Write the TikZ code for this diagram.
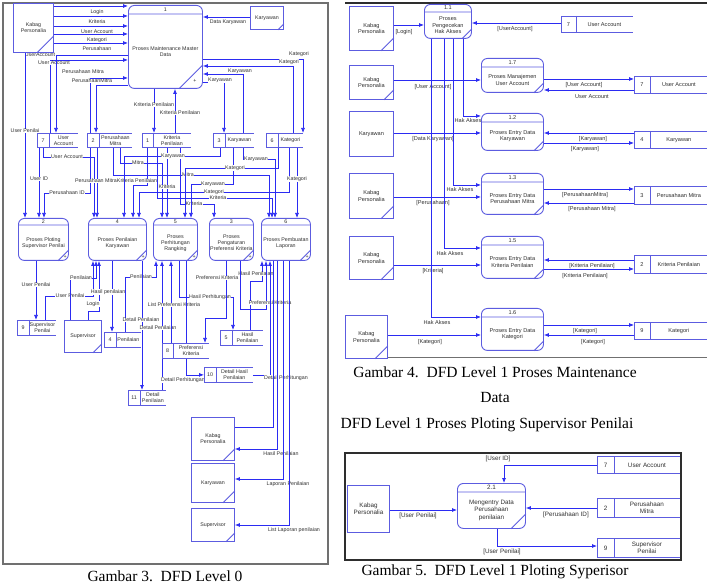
\documentclass[tikz,border=0pt]{standalone}
\usepackage{fontspec}
\setmainfont{Liberation Serif}
\setsansfont{Liberation Sans}
\usetikzlibrary{arrows.meta, calc, backgrounds}
\definecolor{cflow}{HTML}{2B2BF2}
\definecolor{cbox}{HTML}{5C5CE0}
\definecolor{cgrey}{HTML}{707070}
\definecolor{cdark}{HTML}{2E2E2E}
\definecolor{ctext}{HTML}{303030}
\tikzset{
  every picture/.style={line width=0.8pt},
  flow/.style={draw=cflow, line width=0.75pt, -{Latex[length=5pt,width=4pt]}},
  link/.style={draw=cflow, line width=0.75pt},
  edge/.style={draw=cbox, line width=0.9pt},
  ent/.style={edge, fill=white, align=center, inner sep=0pt, text=ctext},
  proc/.style={edge, fill=white, rounded corners=6pt, inner sep=0pt},
  store/.style={fill=white, inner sep=0pt},
  txt/.style={align=center, inner sep=0pt, text=ctext},
  lab/.style={fill=white, inner sep=0.4pt, text=ctext},
  captxt/.style={font=\rmfamily\fontsize{15.5}{18}\selectfont, inner sep=0pt},
  fa/.style={font=\sffamily\fontsize{5.3}{5.9}\selectfont},
  fb/.style={font=\sffamily\fontsize{5.6}{6.4}\selectfont},
  fc/.style={font=\sffamily\fontsize{6.3}{7.3}\selectfont},
}
\begin{document}
\begin{tikzpicture}[x=1pt, y=-1pt]
\useasboundingbox (0,0) rectangle (707,585);

% ---------------- DFD level 0 ----------------
\begin{scope}[every node/.append style={fa}]
\foreach \n/\x/\y/\w/\h/\dg/\txt in {kp0/13/3/40/49/17/{Kabag\\Personalia}, kar0/250/6/33/23/6/Karyawan,
    sup0/64/320/37/32/9/Supervisor, kp1/191/417/43/43/12/{Kabag\\Personalia},
    kar1/191/463/43/39/12/Karyawan, sup1/191/508/43/33/9/Supervisor} {
  \node[ent, minimum width=\w pt, minimum height=\h pt, anchor=north west] (\n) at (\x,\y) {\txt};
  \draw[edge] ($(\n.south east)+(0,-\dg)$) -- ($(\n.south east)+(-\dg,0)$);
}
\foreach \n/\x/\y/\w/\h/\hd/\nm/\dg/\txt in {p1/128/5/74/83/9/1/24/{Proses Maintenance Master\\Data},
    p2/18/218/50/42/7/2/11/{Proses Ploting\\Supervisor Penilai}, p4/88/218/58/42/7/4/11/{Proses Penilaian\\Karyawan},
    p5/153/218/44/42/7/5/11/{Proses\\Perhitungan\\Rangking}, p3/209/218/44/42/7/3/11/{Proses\\Pengaturan\\Preferensi Kriteria},
    p6/261/218/49/42/7/6/11/{Proses Pembuatan\\Laporan}} {
  \node[proc, minimum width=\w pt, minimum height=\h pt, anchor=north west] (\n) at (\x,\y) {};
  \draw[edge] ($(\n.north west)+(0,\hd)$) -- ($(\n.north east)+(0,\hd)$)
    ($(\n.south east)+(0,-\dg)$) -- ($(\n.south east)+(-\dg,0)$);
  \node[txt] (\n-no) at ($(\n.north)+(0,\hd/2)$) {\nm};
  \node[txt] (\n-tx) at ($(\n.center)+(0,\hd/2)$) {\txt};
  \node[txt] (\n-pl) at ($(\n.south east)+(-\dg/3,-\dg/3)$) {+};
}
\foreach \n/\x/\y/\w/\h/\cw/\nm/\txt in {s7/37/133/40/14/12/7/{User\\Account}, s2/87/133/44/14/12/2/{Perusahaan\\Mitra},
    s1/142/133/48/14/11/1/{Kriteria\\Penilaian}, s3/213/133/40/14/12/3/Karyawan, s6/266/133/36/14/12/6/Kategori,
    s9/17/320/38/15/12/9/{Supervisor\\Penilai}, s4/104/332/36/15/12/4/Penilaian, s11/128/390/37/15/12/11/{Detail\\Penilaian},
    s8/162/343/46/15/11/8/{Preferensi\\Kriteria}, s5/220/330/42/15/12/5/{Hasil\\Penilaian},
    s10/204/367/48/15/12/10/{Detail Hasil\\Penilaian}} {
  \node[store, minimum width=\w pt, minimum height=\h pt, anchor=north west] (\n) at (\x,\y) {};
  \draw[edge] (\n.north east) -- (\n.north west) -- (\n.south west) -- (\n.south east)
    ($(\n.north west)+(\cw,0)$) -- ($(\n.south west)+(\cw,0)$);
  \node[txt] (\n-no) at ($(\n.west)+(\cw/2,0)$) {\nm};
  \node[txt] (\n-tx) at ($(\n.center)+(\cw/2,0)$) {\txt};
}
\begin{pgfonlayer}{background}
  \draw[cgrey, line width=1.3pt] (3,3) rectangle (328,564);
  % into process 1
  \foreach \yy/\lb [count=\i] in {6/Login, 16/Kriteria, 26/User Account, 34/Kategori, 43/Perusahaan}
    \draw[flow] (kp0.east |- 0,\yy) -- (p1.west |- 0,\yy) node[lab] (ka\i) at (97,\yy+6) {\lb};
  \draw[flow] (kar0.west |- 0,17) -- (p1.east |- 0,17) node[lab] (f1) at (228,22) {Data Karyawan};
  \draw[flow] (s7.north -| 50,0) |- (p1.west |- 0,60) node[lab] (f2) at (54,63) {User Account};
  \draw[flow] (p1.west |- 0,55) -| (s7.north -| 56,0) node[lab] (f3) at (40,55) {UserAccount};
  \draw[flow] (s2.north -| 90,0) |- (p1.west |- 0,78) node[lab] (f4) at (83,72) {Perusahaan Mitra};
  \draw[flow] (p1.west |- 0,85) -| (s2.north -| 96,0) node[lab] (f5) at (92,81) {PerusahaanMitra};
  \draw[flow] (p1.south -| 154,0) -- (s1.north -| 154,0) node[lab] (f6) at (154,105) {Kriteria Penilaian};
  \draw[flow] (s1.north -| 175,0) -- (p1.south -| 175,0) node[lab] (f7) at (180,113) {Kriteria Penilaian};
  \draw[flow] (p1.east |- 0,59) -| (s6.north -| 303,0) node[lab] (f8) at (299,54) {Kategori};
  \draw[flow] (s6.north -| 293,0) |- (p1.east |- 0,66) node[lab] (f9) at (289,62) {Kategori};
  \draw[flow] (s3.north -| 243,0) |- (p1.east |- 0,74) node[lab] (f10) at (240,71) {Karyawan};
  \draw[flow] (p1.east |- 0,82) -| (s3.north -| 224,0) node[lab] (f11) at (220,80) {Karyawan};
  % stores to the process row
  \draw[flow] (kp0.south -| 25,0) -- (p2.north -| 25,0) node[lab] (f12) at (25,131) {User Penilai};
  \draw[flow] (s7.south -| 39,0) -- (p2.north -| 39,0) node[lab] (f13) at (39,179) {User ID};
  \draw[flow] (s7.south -| 43,0) |- (94,157) -- (p4.north -| 94,0) node[lab] (f14) at (67,157) {User Account};
  \draw[flow] (s2.south -| 90,0) |- (44,193) -- (p2.north -| 44,0) node[lab] (f15) at (67,193) {Perusahaan ID};
  \draw[flow] (s2.south -| 97,0) -- (p4.north -| 97,0) node[lab] (f16) at (96,181) {Perusahaan Mitra};
  \draw[flow] (s2.south -| 120,0) |- (162,163) -- (p5.north -| 162,0) node[lab] (f17) at (138,163) {Mitra};
  \draw[flow] (s2.south -| 113,0) |- (269,175) -- (p6.north -| 269,0) node[lab] (f18) at (188,175) {Mitra};
  \draw[flow] (s1.south -| 147,0) |- (133,185) -- (p4.north -| 133,0) node[lab] (f19) at (137,181) {Kriteria Penilaian};
  \draw[flow] (s1.south -| 167,0) -- (p5.north -| 167,0) node[lab] (f20) at (167,187) {Kriteria};
  \draw[flow] (s1.south -| 157,0) |- (272,198) -- (p6.north -| 272,0) node[lab] (f21) at (218,198) {Kriteria};
  \draw[flow] (s1.south -| 180,0) |- (214,204) -- (p3.north -| 214,0) node[lab] (f22) at (194,204) {Kriteria};
  \draw[flow] (s3.south -| 220,0) |- (124,156) -- (p4.north -| 124,0) node[lab] (f23) at (173,156) {Karyawan};
  \draw[flow] (s3.south -| 233,0) |- (191,184) -- (p5.north -| 191,0) node[lab] (f24) at (213,184) {Karyawan};
  \draw[flow] (s3.south -| 243,0) |- (275,159) -- (p6.north -| 275,0) node[lab] (f25) at (256,159) {Karyawan};
  \draw[flow] (s6.south -| 278,0) |- (185,168) -- (p5.north -| 185,0) node[lab] (f26) at (235,168) {Kategori};
  \draw[flow] (s6.south -| 289,0) |- (139,192) -- (p4.north -| 139,0) node[lab] (f27) at (214,192) {Kategori};
  \draw[flow] (s6.south -| 297,0) -- (p6.north -| 297,0) node[lab] (f28) at (297,179) {Kategori};
  % below the process row
  \draw[flow] (p2.south -| 36,0) -- (s9.north -| 36,0) node[lab] (f29) at (36,285) {User Penilai};
  \draw[flow] (s9.north -| 45,0) |- (93,296) -- (p4.south -| 93,0) node[lab] (f30) at (70,296) {User Penilai};
  \draw[flow] (sup0.north -| 70,0) |- (96,278) -- (p4.south -| 96,0) node[lab] (f31) at (81,278) {Penilaian};
  \draw[flow] (sup0.north -| 88,0) |- (99,311) -- (p4.south -| 99,0) node[lab] (f32) at (93,304) {Login};
  \draw[flow] (p4.south -| 112,0) -- (s4.north -| 112,0) node[lab] (f33) at (108,292) {Hasil penilaian};
  \draw[flow] (s4.north -| 125,0) |- (156,277) -- (p5.south -| 156,0) node[lab] (f34) at (141,277) {Penilaian};
  \draw[flow] (p4.south -| 142,0) -- (s11.north -| 142,0) node[lab] (f35) at (141,320) {Detail Penilaian};
  \draw[flow] (s11.north -| 162,0) -- (p5.south -| 162,0) node[lab] (f36) at (158,328) {Detail Penilaian};
  \draw[flow] (s8.north -| 171,0) -- (p5.south -| 171,0) node[lab] (f37) at (174,305) {List Preferensi Kriteria};
  \draw[flow] (p5.south -| 179,0) |- (233,297) -- (s5.north -| 233,0) node[lab] (f38) at (210,297) {Hasil Perhitungan};
  \draw[flow] (p5.south -| 186,0) |- (s10.west) node[lab] (f39) at (183,380) {Detail Perhitungan};
  \draw[flow] (p3.south -| 226,0) |- (205,318) -- (s8.north -| 205,0) node[lab] (f40) at (217,278) {Preferensi Kriteria};
  \draw[flow] (s5.north -| 250,0) |- (262,281) -- (p6.south -| 262,0) node[lab] (f41) at (256,274) {Hasil Penilaian};
  \draw[flow] (p3.south -| 240,0) |- (266,309) -- (p6.south -| 266,0) node[lab] (f42) at (270,303) {Preferensi Kriteria};
  \draw[flow] (s10.east) -| (p6.south -| 270,0) node[lab] (f43) at (286,378) {Detail Perhitungan};
  % reports
  \draw[link] (p6.south -| 273,0) |- (kp1.east |- 0,427);
  \draw[flow] (p6.south -| 277,0) |- (kp1.east |- 0,449) node[lab] (f44) at (281,454) {Hasil Penilaian};
  \draw[flow] (p6.south -| 283,0) |- (kar1.east |- 0,479) node[lab] (f45) at (288,484) {Laporan Penilaian};
  \draw[flow] (p6.south -| 289,0) |- (sup1.east |- 0,525) node[lab] (f46) at (294,530) {List Laporan penilaian};
\end{pgfonlayer}
\end{scope}

% ---------------- DFD level 1, maintenance ----------------
\begin{scope}[every node/.append style={fb}]
\foreach \n/\x/\y/\w/\h/\dg/\txt in {ka/349/6/44/44/13/{Kabag\\Personalia}, kb/349/65/44/34/10/{Kabag\\Personalia},
    kc/349/111/44/45/0/Karyawan, kd/349/173/44/45/13/{Kabag\\Personalia},
    ke/349/236/44/43/13/{Kabag\\Personalia}, kf/345/315/42/43/13/{Kabag\\Personalia}} {
  \node[ent, minimum width=\w pt, minimum height=\h pt, anchor=north west] (\n) at (\x,\y) {\txt};
  \draw[edge] ($(\n.south east)+(0,-\dg)$) -- ($(\n.south east)+(-\dg,0)$);
}
\foreach \n/\x/\y/\w/\h/\hd/\nm/\dg/\txt in {q11/424/4/47/34/8/1.1/10/{Proses\\Pengecekan\\Hak Akses},
    q17/481/58/62/34/9/1.7/10/{Proses Manajemen\\User Account}, q12/481/113/62/37/9/1.2/10/{Proses Entry Data\\Karyawan},
    q13/481/173/62/41/9/1.3/10/{Proses Entry Data\\Perusahaan Mitra},
    q15/481/236/62/42/9/1.5/10/{Proses Entry Data\\Kriteria Penilaian},
    q16/481/308/62/42/9/1.6/10/{Proses Entry Data\\Kategori}} {
  \node[proc, minimum width=\w pt, minimum height=\h pt, anchor=north west] (\n) at (\x,\y) {};
  \draw[edge] ($(\n.north west)+(0,\hd)$) -- ($(\n.north east)+(0,\hd)$)
    ($(\n.south east)+(0,-\dg)$) -- ($(\n.south east)+(-\dg,0)$);
  \node[txt] (\n-no) at ($(\n.north)+(0,\hd/2)$) {\nm};
  \node[txt] (\n-tx) at ($(\n.center)+(0,\hd/2)$) {\txt};
}
\foreach \n/\x/\y/\w/\h/\cw/\nm/\txt in {t7a/561/16/71/16/15/7/User Account, t7b/634/76/73/17/16/7/User Account,
    t4/634/131/73/17/16/4/Karyawan, t3/634/186/73/18/16/3/Perusahaan Mitra,
    t2/634/255/73/18/16/2/Kriteria Penilaian, t9/634/322/73/17/16/9/Kategori} {
  \node[store, minimum width=\w pt, minimum height=\h pt, anchor=north west] (\n) at (\x,\y) {};
  \draw[edge] (\n.north east) -- (\n.north west) -- (\n.south west) -- (\n.south east)
    ($(\n.north west)+(\cw,0)$) -- ($(\n.south west)+(\cw,0)$);
  \node[txt] (\n-no) at ($(\n.west)+(\cw/2,0)$) {\nm};
  \node[txt] (\n-tx) at ($(\n.center)+(\cw/2,0)$) {\txt};
}
\begin{pgfonlayer}{background}
  \draw[cdark, line width=1.6pt] (345,3) -- (707,3);
  \draw[cgrey, line width=1pt] (345,358) -- (707,358);
  \draw[flow] (ka.east |- 0,25) -- (q11.west |- 0,25) node[lab] (g1) at (404,32) {[Login]};
  \draw[flow] (t7a.west |- 0,23) -- (q11.east |- 0,23) node[lab] (g2) at (515,29) {[UserAccount]};
  \draw[flow] (kb.east |- 0,80) -- (q17.west |- 0,80) node[lab] (g3) at (433,87) {[User Account]};
  \draw[flow] (q17.east |- 0,79) -- (t7b.west |- 0,79) node[lab] (g4) at (584,85) {[User Account]};
  \draw[flow] (t7b.west |- 0,90) -- (q17.east |- 0,90) node[lab] (g5) at (592,97) {User Account};
  \draw[flow] (kc.east |- 0,133) -- (q12.west |- 0,133) node[lab] (g6) at (433,139) {[Data Karyawan]};
  \draw[flow] (t4.west |- 0,133) -- (q12.east |- 0,133) node[lab] (g7) at (593,139) {[Karyawan]};
  \draw[flow] (q12.east |- 0,143) -- (t4.west |- 0,143) node[lab] (g8) at (585,149) {[Karyawan]};
  \draw[flow] (kd.east |- 0,197) -- (q13.west |- 0,197) node[lab] (g9) at (433,203) {[Perusahaan]};
  \draw[flow] (q13.east |- 0,189) -- (t3.west |- 0,189) node[lab] (g10) at (585,195) {[PerusahaanMitra]};
  \draw[flow] (t3.west |- 0,203) -- (q13.east |- 0,203) node[lab] (g11) at (592,209) {[Perusahaan Mitra]};
  \draw[flow] (ke.east |- 0,265) -- (q15.west |- 0,265) node[lab] (g12) at (433,271) {[Kriteria]};
  \draw[flow] (t2.west |- 0,260) -- (q15.east |- 0,260) node[lab] (g13) at (592,266) {[Kriteria Penilaian]};
  \draw[flow] (q15.east |- 0,269) -- (t2.west |- 0,269) node[lab] (g14) at (585,276) {[Kriteria Penilaian]};
  \draw[flow] (kf.east |- 0,335) -- (q16.west |- 0,335) node[lab] (g15) at (430,342) {[Kategori]};
  \draw[flow] (q16.east |- 0,325) -- (t9.west |- 0,325) node[lab] (g16) at (585,331) {[Kategori]};
  \draw[flow] (t9.west |- 0,335) -- (q16.east |- 0,335) node[lab] (g17) at (593,342) {[Kategori]};
  % access rights
  \draw[flow] (q11.south -| 463,0) |- (q12.west |- 0,116) node[lab] (h1) at (468,121) {Hak Akses};
  \draw[flow] (q11.south -| 453,0) |- (q13.west |- 0,185) node[lab] (h2) at (460,190) {Hak Akses};
  \draw[flow] (q11.south -| 444,0) |- (q15.west |- 0,248) node[lab] (h3) at (450,253) {Hak Akses};
  \draw[flow] (q11.south -| 431,0) |- (q16.west |- 0,317) node[lab] (h4) at (437,322) {Hak Akses};
\end{pgfonlayer}
\end{scope}

% ---------------- DFD level 1, ploting ----------------
\begin{scope}[every node/.append style={fc}]
\node[ent, minimum width=42pt, minimum height=47pt, anchor=north west] (kg) at (347,485) {Kabag\\Personalia};
\node[proc, minimum width=68pt, minimum height=45pt, anchor=north west] (r21) at (457,483) {};
\draw[edge] ($(r21.north west)+(0,9)$) -- ($(r21.north east)+(0,9)$)
  ($(r21.south east)+(0,-15)$) -- ($(r21.south east)+(-15,0)$);
\node[txt] (r21-no) at ($(r21.north)+(0,4.5)$) {2.1};
\node[txt] (r21-tx) at ($(r21.center)+(0,4.5)$) {Mengentry Data\\Perusahaan\\penilaian};
\foreach \n/\x/\y/\w/\h/\cw/\nm/\txt in {u7/597/456/82/17/17/7/User Account, u2/597/498/82/19/17/2/{Perusahaan\\Mitra},
    u9/597/538/82/19/17/9/{Supervisor\\Penilai}} {
  \node[store, minimum width=\w pt, minimum height=\h pt, anchor=north west] (\n) at (\x,\y) {};
  \draw[edge] (\n.north east) -- (\n.north west) -- (\n.south west) -- (\n.south east)
    ($(\n.north west)+(\cw,0)$) -- ($(\n.south west)+(\cw,0)$);
  \node[txt] (\n-no) at ($(\n.west)+(\cw/2,0)$) {\nm};
  \node[txt] (\n-tx) at ($(\n.center)+(\cw/2,0)$) {\txt};
}
\begin{pgfonlayer}{background}
  \draw[cdark, line width=1.6pt] (345,453) rectangle (681,560);
  \draw[flow] (u7.west |- 0,465) -| (r21.north -| 504,0) node[lab] (k1) at (498,459) {[User ID]};
  \draw[flow] (kg.east |- 0,510) -- (r21.west |- 0,510) node[lab] (k2) at (418,516) {[User Penilai]};
  \draw[flow] (u2.west |- 0,508) -- (r21.east |- 0,508) node[lab] (k3) at (566,515) {[Perusahaan ID]};
  \draw[flow] (r21.south -| 497,0) |- (u9.west |- 0,546) node[lab] (k4) at (502,552) {[User Penilai]};
\end{pgfonlayer}
\end{scope}

% captions
\node[captxt] (cap3) at (165,576) {Gambar 3.\ \ DFD Level 0};
\node[captxt] (cap4) at (495,372) {Gambar 4.\ \ DFD Level 1 Proses Maintenance};
\node[captxt] (cap4b) at (495,398) {Data};
\node[captxt] (cap4c) at (487,425) {DFD Level 1 Proses Ploting Supervisor Penilai};
\node[captxt] (cap5) at (495,572) {Gambar 5.\ \ DFD Level 1 Ploting Syperisor};
\end{tikzpicture}
\end{document}
